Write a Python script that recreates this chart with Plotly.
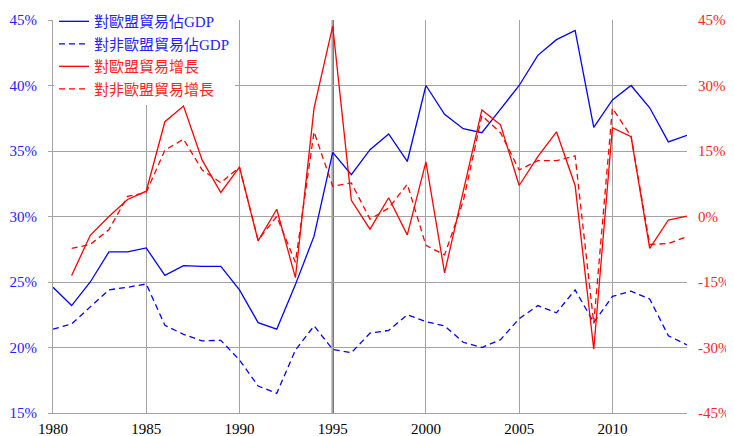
import plotly.graph_objects as go

years = list(range(1980, 2015))

eu_share = [24.6, 23.2, 25.0, 27.3, 27.3, 27.6, 25.5, 26.25, 26.2, 26.2,
            24.4, 21.9, 21.4, 24.8, 28.5, 34.9, 33.2, 35.1, 36.3, 34.2,
            40.0, 37.8, 36.7, 36.4, 38.2, 40.0, 42.3, 43.5, 44.2, 36.8,
            38.9, 40.0, 38.3, 35.7, 36.2]

noneu_share = [21.4, 21.8, 23.1, 24.4, 24.6, 24.85, 21.7, 21.0, 20.5, 20.55,
               19.05, 17.06, 16.5, 19.8, 21.65, 19.86, 19.6, 21.1, 21.3, 22.5,
               21.97, 21.65, 20.4, 20.0, 20.6, 22.2, 23.2, 22.65, 24.4, 21.9,
               23.9, 24.3, 23.7, 20.9, 20.2]

eu_growth = [None, -13.5, -4.3, 0.0, 3.9, 5.8, 21.7, 25.3, 12.9, 5.5,
             11.3, -5.6, 1.65, -14.0, 24.8, 43.6, 3.7, -2.9, 4.3, -4.2,
             12.5, -12.9, 6.0, 24.4, 21.0, 7.1, 13.7, 19.4, 7.1, -30.4,
             20.35, 18.3, -7.3, -0.8, 0.1]

noneu_growth = [None, -7.3, -6.4, -3.0, 4.6, 5.5, 15.2, 17.7, 10.65, 7.75,
                11.3, -5.4, 0.0, -10.5, 19.4, 6.9, 7.7, -0.6, 1.9, 7.4,
                -6.6, -8.8, 3.5, 23.1, 19.2, 10.65, 12.8, 12.8, 13.9, -24.5,
                24.8, 18.4, -6.4, -6.2, -4.6]

names = ["對歐盟貿易佔GDP", "對非歐盟貿易佔GDP", "對歐盟貿易增長", "對非歐盟貿易增長"]
x_ticks = [1980, 1985, 1990, 1995, 2000, 2005, 2010]
left_ticks = [15, 20, 25, 30, 35, 40, 45]
right_ticks = [-45, -30, -15, 0, 15, 30, 45]
highlight_year = 1995

BLUE = "#0000ff"
RED = "#ff0000"
BLUE_TXT = "#2222ff"
RED_TXT = "#ff2222"
GRID = "#a3a3a3"
FONT = "Liberation Serif, Times New Roman, serif"
LEG_FONT = "Liberation Serif, Noto Sans CJK TC, serif"
DASH = "6px,4px"

fig = go.Figure()
fig.add_trace(go.Scatter(x=years, y=eu_share, mode="lines",
                         name=f"<span style='color:{BLUE_TXT}'>{names[0]}</span>",
                         line=dict(color=BLUE, width=1.3)))
fig.add_trace(go.Scatter(x=years, y=noneu_share, mode="lines",
                         name=f"<span style='color:{BLUE_TXT}'>{names[1]}</span>",
                         line=dict(color=BLUE, width=1.3, dash=DASH)))
fig.add_trace(go.Scatter(x=years, y=eu_growth, mode="lines", yaxis="y2",
                         name=f"<span style='color:{RED_TXT}'>{names[2]}</span>",
                         line=dict(color=RED, width=1.3)))
fig.add_trace(go.Scatter(x=years, y=noneu_growth, mode="lines", yaxis="y2",
                         name=f"<span style='color:{RED_TXT}'>{names[3]}</span>",
                         line=dict(color=RED, width=1.3, dash=DASH)))

fig.add_shape(type="line", xref="x", yref="paper", x0=highlight_year, x1=highlight_year,
              y0=0, y1=1, line=dict(color="#404040", width=2), layer="between")

fig.update_layout(
    width=726, height=428,
    margin=dict(l=45, r=47, t=12, b=23, autoexpand=False),
    paper_bgcolor="white", plot_bgcolor="white",
    font=dict(family=FONT, size=15, color="black"),
    showlegend=True,
    legend=dict(x=0.0016, y=1.038, xanchor="left", yanchor="top",
                bgcolor="white", borderwidth=0,
                font=dict(family=LEG_FONT, size=15),
                itemwidth=30, tracegroupgap=0),
    xaxis=dict(range=[1980, 2014], tickvals=x_ticks, ticktext=[str(v) for v in x_ticks],
               automargin=False,
               showgrid=True, gridcolor=GRID, gridwidth=1,
               showline=True, linecolor=GRID, linewidth=1,
               zeroline=False, ticks="", ticklabelstandoff=2,
               tickfont=dict(family=FONT, size=15, color="black")),
    yaxis=dict(range=[15, 45], tickvals=left_ticks, ticktext=[f"{v}%" for v in left_ticks],
               automargin=False,
               showgrid=True, gridcolor=GRID, gridwidth=1,
               showline=True, linecolor=GRID, linewidth=1,
               zeroline=False, ticks="outside", ticklen=4, tickcolor=GRID,
               ticklabelstandoff=8,
               tickfont=dict(family=FONT, size=15, color=BLUE_TXT)),
    yaxis2=dict(range=[-45, 45], tickvals=right_ticks, ticktext=[f"{v}%" for v in right_ticks],
                automargin=False,
                overlaying="y", side="right", showgrid=False, showline=False,
                zeroline=False, ticks="", ticklabelstandoff=10,
                tickfont=dict(family=FONT, size=15, color=RED_TXT)),
)

fig.write_html("out.html")
